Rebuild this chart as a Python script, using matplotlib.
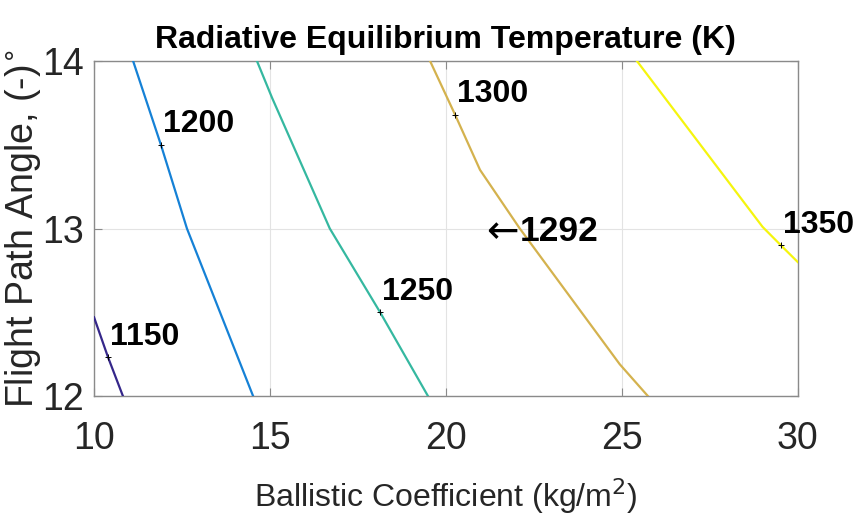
import matplotlib
matplotlib.use('Agg')
import matplotlib.pyplot as plt
from matplotlib import font_manager

# pick a condensed font if there is one
def pick(names):
    for n in names:
        try:
            font_manager.findfont(n, fallback_to_default=False)
            return n
        except Exception:
            pass
    return 'DejaVu Sans'

narrow = pick(['Liberation Sans Narrow', 'Liberation Sans'])
regular = pick(['Liberation Sans', 'DejaVu Sans'])

# contour levels (K) and traced vertices (ballistic coeff, flight path angle)
levels = [1150, 1200, 1250, 1300, 1350]
colors = ['#35278a', '#1581d6', '#35b8a0', '#d4b24e', '#f5f50e']
bc_1150 = [10.0, 10.40, 10.82]
fpa_1150 = [12.47, 12.23, 12.0]
bc_1200 = [11.11, 11.90, 12.64, 14.52]
fpa_1200 = [14.0, 13.50, 13.0, 12.0]
bc_1250 = [14.63, 15.06, 16.70, 18.13, 19.49]
fpa_1250 = [14.0, 13.78, 13.0, 12.50, 12.0]
bc_1300 = [19.55, 20.26, 20.97, 22.10, 24.94, 25.74]
fpa_1300 = [14.0, 13.68, 13.35, 13.0, 12.19, 12.0]
bc_1350 = [25.43, 29.0, 29.52, 30.0]
fpa_1350 = [14.0, 13.01, 12.90, 12.80]
xs = [bc_1150, bc_1200, bc_1250, bc_1300, bc_1350]
ys = [fpa_1150, fpa_1200, fpa_1250, fpa_1300, fpa_1350]

# inline label positions (marker points)
label_x = [10.40, 11.90, 18.13, 20.26, 29.52]
label_y = [12.23, 13.50, 12.50, 13.68, 12.90]

# highlighted design point
point_label = '1292'
point_x = 22.10
point_y = 12.98

fig = plt.figure(figsize=(8.55, 5.29), dpi=100)
ax = fig.add_axes([0.110, 0.2514, 0.823, 0.6333])

for x, y, c in zip(xs, ys, colors):
    ax.plot(x, y, color=c, lw=1.6, zorder=3)

for lev, lx, ly in zip(levels, label_x, label_y):
    ax.plot(lx, ly, '+', color='black', ms=5, mew=0.7, zorder=4)
    ax.annotate(str(lev), (lx, ly), xytext=(1.5, 4), textcoords='offset points',
                ha='left', va='bottom', fontsize=23, fontweight='bold',
                family=narrow, zorder=5, annotation_clip=False)

ax.annotate(point_label, (point_x, point_y), ha='left', va='center',
            fontsize=25.5, fontweight='bold', family=narrow, zorder=5)
ax.annotate('\u2190', (point_x, point_y), xytext=(-0.5, 0), textcoords='offset points',
            ha='right', va='center', fontsize=28, family='DejaVu Sans', zorder=5)

ax.set_xlim(10, 30)
ax.set_ylim(12, 14)
ax.set_xticks([10, 15, 20, 25, 30])
ax.set_yticks([12, 13, 14])
ax.grid(True, color='#e3e3e3', lw=0.8, zorder=0)
for s in ax.spines.values():
    s.set_color('#8a8a8a')
    s.set_linewidth(1.0)
ax.tick_params(direction='in', length=6, width=0.8, color='#8a8a8a',
               top=True, right=True, labelsize=27, labelcolor='#262626')
ax.tick_params(axis='x', pad=18)
ax.tick_params(axis='y', pad=7)
for lab in ax.get_xticklabels() + ax.get_yticklabels():
    lab.set_family(narrow)

ax.set_xlabel('Ballistic Coefficient (kg/m$^2$)', fontsize=23, family=narrow,
              color='#262626', labelpad=14)
ax.set_ylabel('Flight Path Angle, (-)$^{\\circ}$', fontsize=27, family=regular,
              color='#262626')
ax.yaxis.set_label_coords(-0.073, 0.5)
ax.set_title('Radiative Equilibrium Temperature (K)', fontsize=23,
             fontweight='bold', family=narrow, pad=9)

fig.savefig('out.png', dpi=100)
